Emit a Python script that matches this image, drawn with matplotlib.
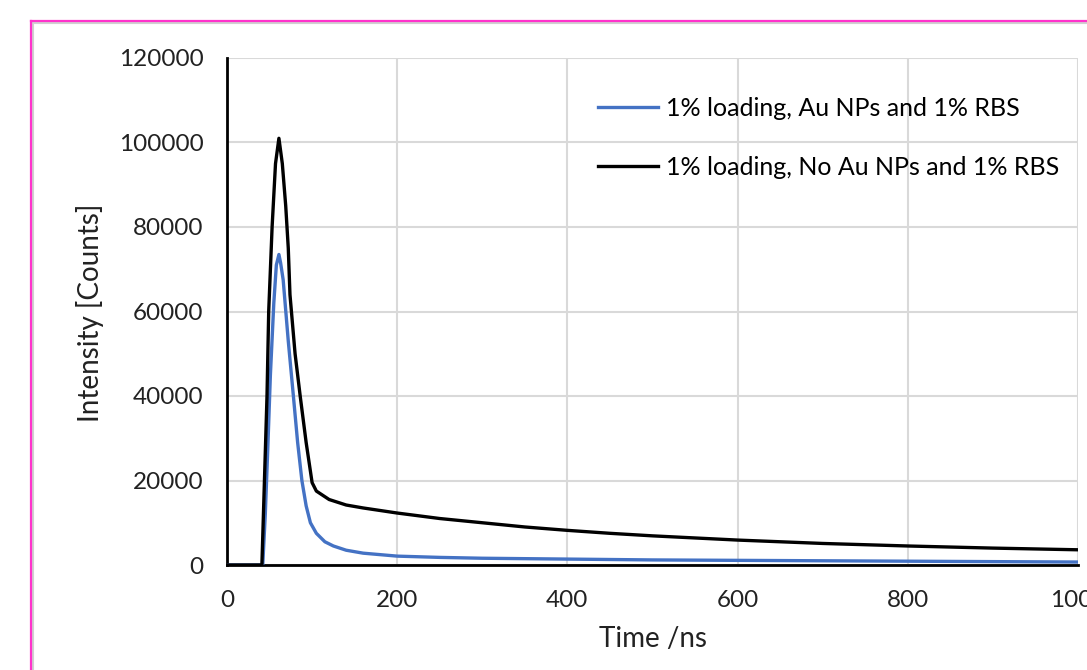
import matplotlib
matplotlib.use("Agg")
import matplotlib.pyplot as plt
from matplotlib.lines import Line2D

t_black = [0, 20, 41, 44, 47, 49, 53, 57, 61, 65, 69, 72, 74, 80, 86, 93, 100, 105,
           120, 140, 160, 200, 250, 300, 350, 400, 450, 500, 550, 600, 700, 800, 900, 1000]
i_black = [0, 0, 0, 20000, 40000, 60000, 80000, 95000, 101000, 95000, 85000, 75000, 64000,
           50000, 40000, 29000, 19500, 17500, 15500, 14200, 13500, 12300, 11000, 10000,
           9000, 8200, 7500, 6900, 6400, 5900, 5100, 4500, 4000, 3600]

t_blue = [0, 20, 42, 45, 48, 51, 55, 58, 61, 63, 66, 72, 78, 83, 88, 93, 98, 105,
          115, 125, 140, 160, 200, 250, 300, 400, 500, 600, 800, 1000]
i_blue = [0, 0, 0, 12000, 28000, 45000, 62000, 71000, 73500, 71500, 67500, 53000, 40000,
          29000, 20000, 14000, 10000, 7500, 5500, 4500, 3500, 2800, 2100, 1800, 1600,
          1400, 1200, 1100, 900, 700]

labels = ["1% loading, Au NPs and 1% RBS", "1% loading, No Au NPs and 1% RBS"]
x_ticks = [0, 200, 400, 600, 800, 1000]
y_ticks = [0, 20000, 40000, 60000, 80000, 100000, 120000]

plt.rcParams['font.family'] = ['Lato', 'DejaVu Sans']

fig = plt.figure(figsize=(10.87, 6.70), dpi=100)
ax = fig.add_axes([227 / 1087, 105 / 670, 851 / 1087, 507 / 670])

ax.plot(t_blue, i_blue, color="#4472C4", lw=2.4, label=labels[0], zorder=3,
        solid_joinstyle="round")
ax.plot(t_black, i_black, color="black", lw=2.4, label=labels[1], zorder=4,
        solid_joinstyle="round")

ax.set_xlim(0, 1000)
ax.set_ylim(0, 120000)
ax.set_xticks(x_ticks)
ax.set_yticks(y_ticks)
ax.tick_params(length=0, labelsize=17.5, colors="#222222")
ax.tick_params(axis="y", pad=17)
ax.tick_params(axis="x", pad=18)
ax.grid(True, color="#D9D9D9", lw=1.5, zorder=0)
ax.set_axisbelow(True)
for s in ["top", "right"]:
    ax.spines[s].set_visible(False)
ax.spines["left"].set_linewidth(2)
ax.spines["bottom"].set_linewidth(2)

ax.set_xlabel("Time /ns", fontsize=20, color="#222222")
ax.set_ylabel("Intensity [Counts]", fontsize=20, color="#222222")
ax.xaxis.set_label_coords((653 - 227) / 851, -(626 - 565) / 507)
ax.yaxis.set_label_coords(-(227 - 104) / 851, (565 - 313) / 507)

ax.legend(loc="upper left", bbox_to_anchor=(575 / 1087, 1 - 74 / 670),
          bbox_transform=fig.transFigure, frameon=False, fontsize=18,
          handlelength=2.4, handletextpad=0.32, labelspacing=1.45)

# pink frame of the screenshot
pink = "#FF33CC"
fig.add_artist(Line2D([33 / 1087, 1], [1 - 23 / 670] * 2, color="#D0D0D0", lw=1.5))
fig.add_artist(Line2D([33 / 1087] * 2, [0, 1 - 23 / 670], color="#D0D0D0", lw=1.5))
fig.add_artist(Line2D([31 / 1087, 1], [1 - 21 / 670] * 2, color=pink, lw=1.6))
fig.add_artist(Line2D([31 / 1087] * 2, [0, 1 - 21 / 670], color=pink, lw=1.6))

fig.savefig("out.png", dpi=100)
